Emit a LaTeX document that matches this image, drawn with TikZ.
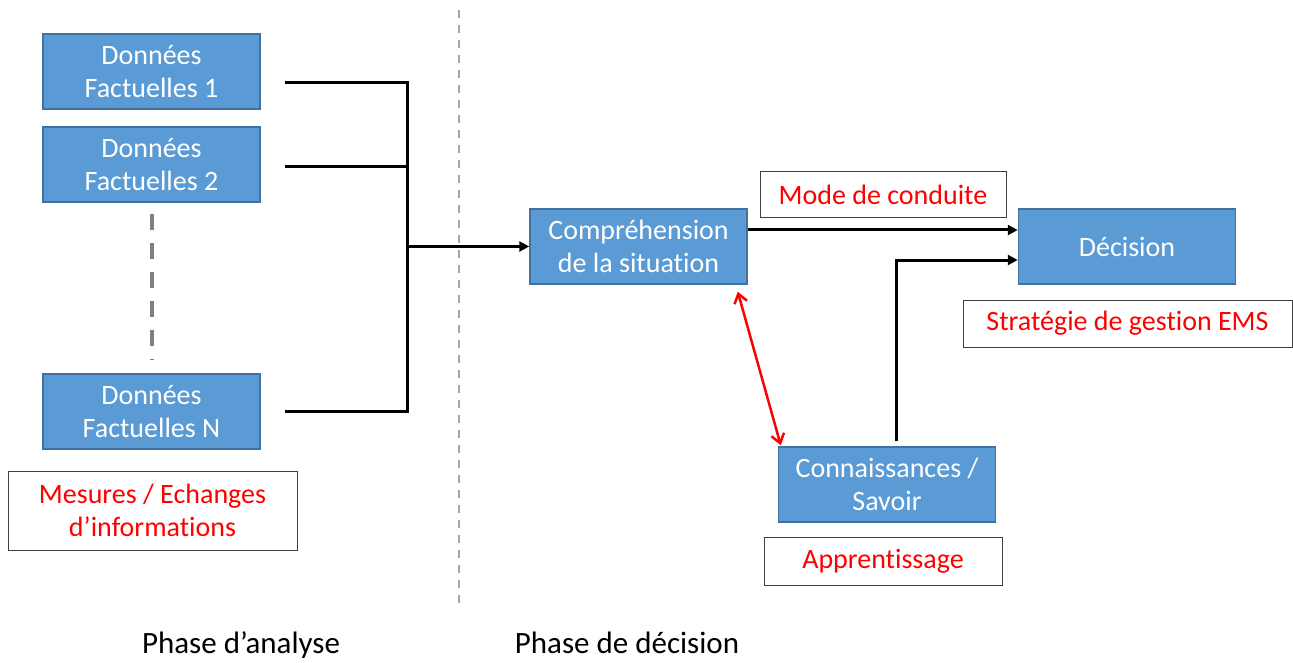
\documentclass[tikz,border=0pt]{standalone}
\usepackage{fontspec}
\setmainfont{Carlito}[Ligatures=NoCommon]
\usetikzlibrary{arrows.meta}
\definecolor{boxblue}{HTML}{5B9BD5}
\definecolor{boxedge}{HTML}{41719C}
\definecolor{dashgray}{HTML}{7F7F7F}
\definecolor{sepgray}{HTML}{A6A6A6}

\begin{document}
\begin{tikzpicture}[
    x=1pt, y=-1pt,
    block/.style={
        rectangle,
        draw=boxedge,
        fill=boxblue,
        line width=1.5pt,
        minimum width=217pt,
        minimum height=75pt,
        inner sep=0pt,
        align=center,
        text=white,
        font=\fontsize{28}{33}\selectfont
    },
    tag/.style={
        rectangle,
        draw=black!75,
        fill=white,
        line width=1pt,
        inner sep=0pt,
        align=center,
        text=red,
        font=\fontsize{28}{33}\selectfont
    },
    phase/.style={
        anchor=base,
        font=\fontsize{31}{36}\selectfont
    },
    link/.style={
        line width=3pt,
        black
    },
    arrow/.style={
        link,
        -{Triangle[length=10pt,width=10pt]}
    },
    feedback/.style={
        line width=2.5pt,
        red,
        {Straight Barb[length=9pt,width=13pt]}-{Straight Barb[length=9pt,width=13pt]}
    }
]
\useasboundingbox (0,0) rectangle (1293,663);

% Components
\node[block] (d1) at (151.5, 71.5) {Données\\Factuelles 1};
\node[block] (d2) at (151.5, 164.5) {Données\\Factuelles 2};
\node[block] (dn) at (151.5, 411.5) {Données\\Factuelles N};
\node[block] (comp) at (638.5, 246.5) {Compréhension\\de la situation};
\node[block] (dec) at (1127, 246.5) {Décision};
\node[block] (know) at (887, 484.5) {Connaissances /\\Savoir};

% Tags
\node[tag, minimum width=289pt, minimum height=79pt] (mesures) at (152.5, 510.5) {Mesures / Echanges\\d’informations};
\node[tag, minimum width=246pt, minimum height=46pt] (mode) at (883, 195) {Mode de conduite};
\node[tag, minimum width=329pt, minimum height=47pt] (strat) at (1127.5, 323.5) {Stratégie de gestion EMS};
\node[tag, minimum width=238pt, minimum height=48pt] (appr) at (883, 561) {Apprentissage};

% Phases
\node[phase] (ana) at (241, 653) {Phase d’analyse};
\node[phase] (deci) at (627, 653) {Phase de décision};

% Separator
\draw[sepgray, line width=2pt, dash pattern=on 8pt off 7pt] (459, 10) -- (459, 605);

% Collecting bus
\coordinate (jbot) at (407, 411.5);
\draw[dashgray, line width=4pt, dash pattern=on 16pt off 13pt, shorten <=11pt, shorten >=13pt] (d2.south) -- (dn.north);
\draw[link] ([xshift=24pt,yshift=-11pt]d1.east) -| (jbot) -- ([xshift=24pt]dn.east);
\draw[link] ([xshift=24pt,yshift=-2.5pt]d2.east) -- ++(123, 0);

% Arrows
\draw[arrow] (jbot |- comp.west) -- (comp.west);
\draw[arrow] ([yshift=16.5pt]comp.east) -- ([yshift=16.5pt]dec.west);
\draw[arrow] ([xshift=9pt,yshift=5pt]know.north) |- ([yshift=-13.5pt]dec.west);
\draw[feedback] ([xshift=-10pt,yshift=-7pt]comp.south east) -- ([xshift=3pt,yshift=1pt]know.north west);

\end{tikzpicture}
\end{document}
